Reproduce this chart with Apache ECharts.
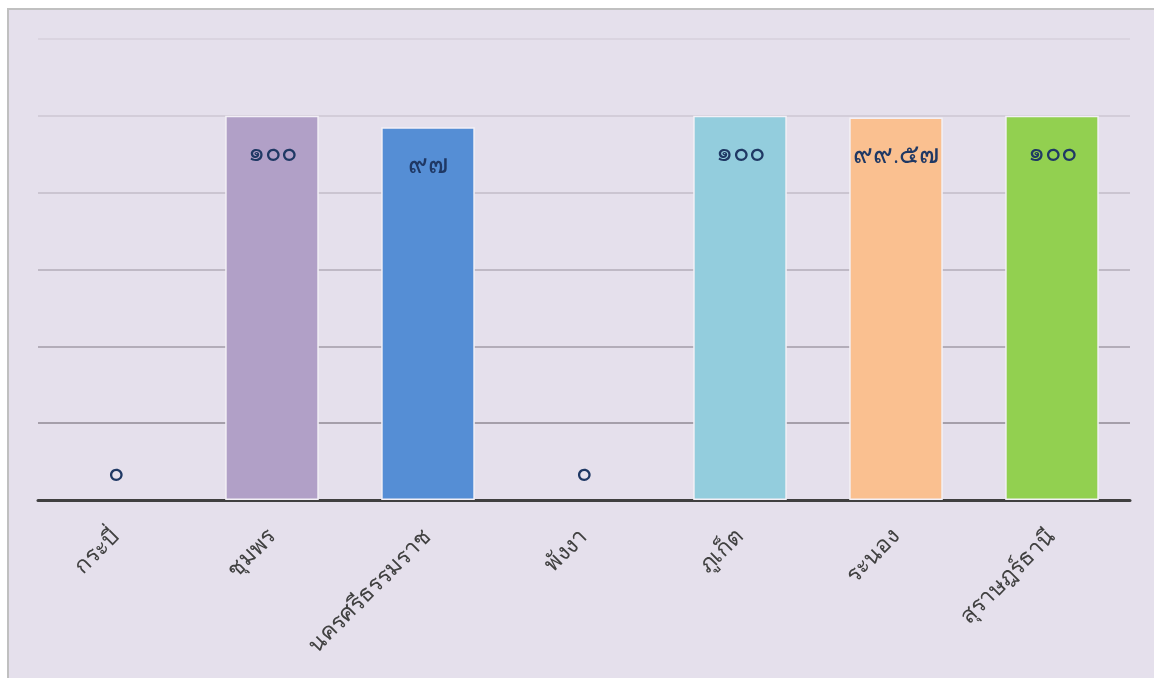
<!DOCTYPE html>
<html><head><meta charset="utf-8">
<script src="https://cdn.jsdelivr.net/npm/echarts@6/dist/echarts.min.js"></script>
<style>html,body{margin:0;padding:0;background:#fff;}#c{width:1154px;height:678px;}</style>
</head><body><div id="c"></div>
<script>
const categories = ['กระบี่','ชุมพร','นครศรีธรรมราช','พังงา','ภูเก็ต','ระนอง','สุราษฎร์ธานี'];
const values = [0, 100, 97, 0, 100, 99.57, 100];
const barColors = ['#b1a0c7','#b1a0c7','#558ed5','#93cddd','#93cddd','#fac090','#92d050'];
const gridColors = ['#8c8791','#8f8a94','#a29ca8','#b2acb8','#c2bcc8','#cdc7d3','#d6d1dd'];

const thaiDigits = '๐๑๒๓๔๕๖๗๘๙';
function toThai(v){ return String(v).replace(/[0-9]/g, d => thaiDigits[+d]); }

const font = "'Noto Sans', 'DejaVu Sans', sans-serif";
const data = values.map((v, i) => ({
  value: v,
  itemStyle: { color: v === 0 ? 'rgba(0,0,0,0)' : barColors[i], borderColor: v === 0 ? 'rgba(0,0,0,0)' : '#f3f0f6', borderWidth: 1.5 },
  label: v === 0 ? { position: 'top', distance: 12 } : { position: 'insideTop', distance: 24 }
}));

const chart = echarts.init(document.getElementById('c'));
chart.setOption({
  animation: false,
  backgroundColor: '#ffffff',
  graphic: [{
    type: 'rect', z: -100, silent: true,
    shape: { x: 8, y: 9, width: 1170, height: 690 },
    style: { fill: '#e5e0ec', stroke: '#c0c0c0', lineWidth: 2 }
  }],
  grid: { left: 38, right: 24, top: 39, bottom: 178 },
  xAxis: {
    type: 'category', data: categories,
    axisLine: { lineStyle: { color: '#404040', width: 3 } },
    axisTick: { show: false },
    axisLabel: { rotate: 45, margin: 33, color: '#404040', fontSize: 23, fontWeight: 300, fontFamily: font, interval: 0 }
  },
  yAxis: {
    type: 'value', min: 0, max: 120, interval: 20,
    axisLine: { show: false }, axisTick: { show: false }, axisLabel: { show: false },
    splitLine: { lineStyle: { color: gridColors, width: 1.5 } }
  },
  series: [{
    type: 'bar', data: data, barWidth: '60%',
    label: { show: true, color: '#1f3864', fontSize: 27, fontWeight: 300, fontFamily: font, formatter: p => toThai(p.value) }
  }]
});
</script></body></html>
